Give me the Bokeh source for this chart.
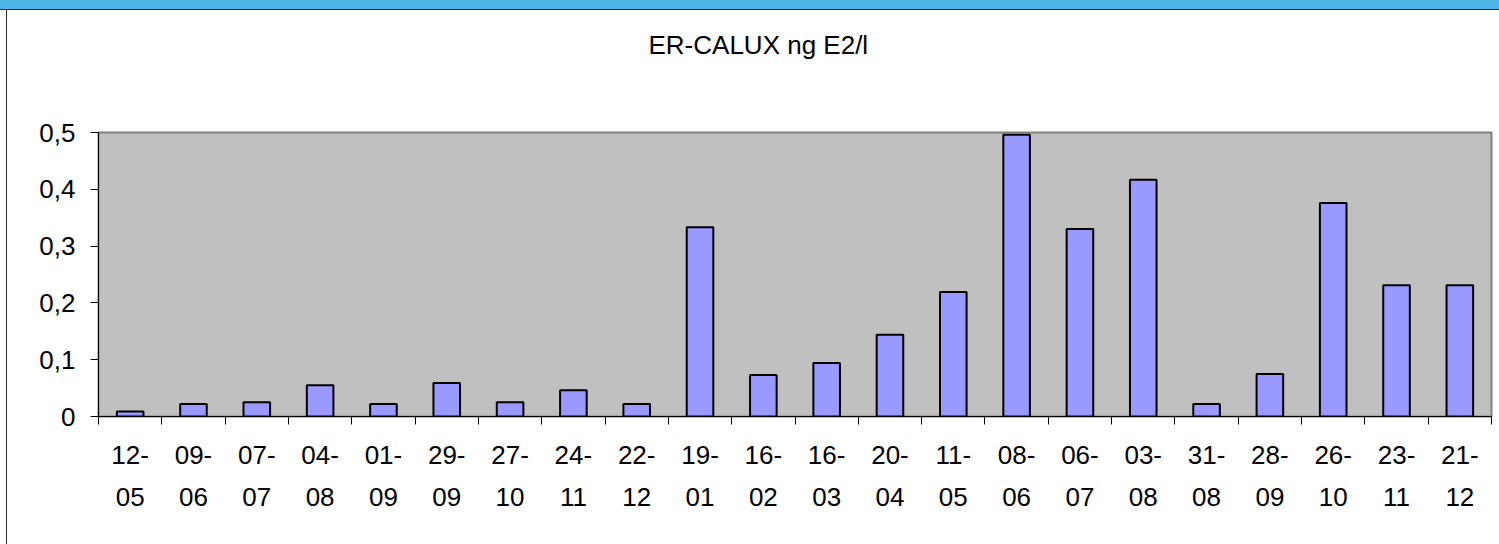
from bokeh.plotting import figure
from bokeh.models import (Range1d, FixedTicker, LinearAxis, Div, Column, Row,
                          CustomJSTickFormatter, Title)
from bokeh.embed import file_html
from bokeh.resources import INLINE

# ---- data ----
dates = ["12-05", "09-06", "07-07", "04-08", "01-09", "29-09", "27-10", "24-11",
         "22-12", "19-01", "16-02", "16-03", "20-04", "11-05", "08-06", "06-07",
         "03-08", "31-08", "28-09", "26-10", "23-11", "21-12"]
values = [0.009, 0.022, 0.025, 0.055, 0.022, 0.059, 0.025, 0.046,
          0.022, 0.333, 0.073, 0.094, 0.144, 0.219, 0.496, 0.330,
          0.417, 0.022, 0.075, 0.376, 0.231, 0.231]
y_ticks = [0, 0.1, 0.2, 0.3, 0.4, 0.5]
title_text = "ER-CALUX ng E2/l"

FONT = "Liberation Sans"
FS = "26px"
n = len(dates)
centers = [i + 0.5 for i in range(n)]
bounds = list(range(n + 1))

p = figure(width=1492, height=534, output_backend="svg", toolbar_location=None,
           x_range=Range1d(0, n), y_range=Range1d(0, 0.5),
           x_axis_type=None, y_axis_type=None,
           min_border_left=91, min_border_right=8, min_border_top=122,
           min_border_bottom=128)

p.background_fill_color = "#C0C0C0"
p.border_fill_color = "white"
p.outline_line_color = "#808080"
p.outline_line_width = 2

# title
p.title.text = title_text
p.title.align = "left"
p.title.text_font = FONT
p.title.text_font_size = FS
p.title.text_font_style = "normal"
p.title.text_color = "black"
p.title.offset = 550
p.title.standoff = 0

# spacer between title and plot frame
p.add_layout(Title(text=" ", text_font_size="10px", standoff=60), "above")

# bars
p.vbar(x=centers, top=values, width=0.42, fill_color="#9999FF",
       line_color="black", line_width=2)

# y axis
yaxis = LinearAxis(ticker=FixedTicker(ticks=y_ticks, minor_ticks=[]))
yaxis.formatter = CustomJSTickFormatter(
    code="return tick == 0 ? '0' : tick.toFixed(1).replace('.', ',');")
yaxis.major_label_text_font = FONT
yaxis.major_label_text_font_size = FS
yaxis.major_label_text_color = "black"
yaxis.major_tick_out = 8
yaxis.major_tick_in = 0
yaxis.minor_tick_out = 0
yaxis.major_label_standoff = 15
yaxis.axis_line_color = "black"
yaxis.major_tick_line_color = "black"
p.add_layout(yaxis, "left")

# x axis
xaxis = LinearAxis(ticker=FixedTicker(ticks=centers, minor_ticks=bounds))
xaxis.major_label_overrides = {c: d.replace("-", "-\n") for c, d in zip(centers, dates)}
xaxis.major_label_text_font = FONT
xaxis.major_label_text_font_size = FS
xaxis.major_label_text_color = "black"
xaxis.major_label_text_line_height = 1.42
xaxis.major_tick_out = 0
xaxis.major_tick_in = 0
xaxis.minor_tick_out = 8
xaxis.minor_tick_in = 0
xaxis.minor_tick_line_color = "black"
xaxis.major_label_standoff = 15
xaxis.axis_line_color = "black"
p.add_layout(xaxis, "below")

# grid
p.ygrid.ticker = FixedTicker(ticks=y_ticks)
p.ygrid.grid_line_color = "black"
p.ygrid.grid_line_width = 1
p.xgrid.grid_line_color = None

# decorative top band and left chart border
top_band = Div(width=1499, height=10, margin=0,
               styles={"background-color": "#4BB6E5",
                       "border-bottom": "1px solid #2A2A2A",
                       "box-sizing": "border-box"})
left_border = Div(width=7, height=534, margin=0,
                  styles={"border-right": "1px solid #2A2A2A",
                          "box-sizing": "border-box"})
p.margin = 0
layout = Column(children=[top_band, Row(children=[left_border, p], spacing=0)],
                spacing=0)

open("out.html", "w").write(file_html(layout, INLINE))
